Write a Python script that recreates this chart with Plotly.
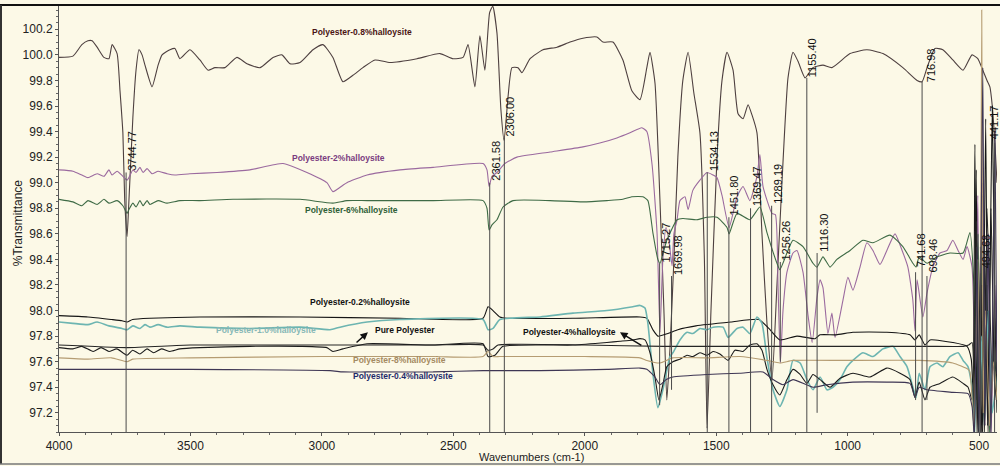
import plotly.graph_objects as go

# ---------------- FTIR spectra: (wavenumber / cm-1, %Transmittance) ----------------
PE_08 = [(4000, 99.98), (3947, 99.99), (3913, 100.08), (3890, 100.11), (3874, 100.11), (3855, 100.06),
         (3829, 99.98), (3810, 99.97), (3798, 100.08), (3779, 100.01), (3768, 99.72), (3757, 99.39),
         (3750, 98.86), (3741, 98.58), (3734, 98.86), (3719, 99.51), (3707, 99.88), (3696, 100.04),
         (3684, 100.00), (3673, 99.92), (3646, 99.75), (3623, 99.92), (3608, 100.00), (3578, 100.04),
         (3559, 100.05), (3540, 99.97), (3502, 100.04), (3464, 99.96), (3433, 99.88), (3407, 99.90),
         (3369, 99.90), (3323, 99.98), (3285, 99.93), (3235, 99.90), (3186, 99.98), (3152, 100.00),
         (3121, 99.93), (3083, 99.94), (3034, 100.04), (2996, 100.08), (2958, 99.98), (2920, 99.79),
         (2882, 99.84), (2844, 99.90), (2798, 99.96), (2741, 99.94), (2638, 99.97), (2551, 100.01),
         (2501, 99.97), (2463, 99.98), (2444, 100.08), (2418, 99.75), (2399, 100.15), (2380, 99.88),
         (2362, 100.33), (2350, 100.38), (2334, 100.17), (2319, 99.57), (2307, 99.33), (2292, 99.67),
         (2277, 99.90), (2254, 99.90), (2239, 99.86), (2208, 99.97), (2159, 100.04), (2106, 100.06),
         (2056, 100.10), (2007, 100.13), (1954, 100.14), (1931, 100.10), (1893, 100.10), (1855, 99.96),
         (1821, 99.72), (1790, 99.65), (1764, 99.90), (1752, 100.02), (1733, 99.78), (1714, 98.86),
         (1699, 98.00), (1688, 97.30), (1676, 97.70), (1661, 98.40), (1646, 99.20), (1627, 99.80),
         (1607, 100.02), (1585, 99.70), (1562, 99.39), (1545, 98.40), (1535, 97.08), (1520, 98.00),
         (1497, 99.20), (1478, 99.80), (1459, 100.02), (1436, 99.88), (1417, 99.54), (1398, 99.50),
         (1379, 99.61), (1364, 99.53), (1345, 99.39), (1326, 98.60), (1307, 97.90), (1288, 97.45),
         (1269, 98.20), (1250, 99.00), (1227, 99.82), (1208, 100.02), (1189, 99.95), (1162, 99.82),
         (1132, 99.90), (1094, 99.92), (1060, 99.90), (991, 100.01), (927, 100.04), (866, 100.01),
         (790, 99.90), (736, 99.80), (717, 99.79), (698, 99.90), (668, 100.05), (638, 100.04),
         (600, 99.96), (561, 99.88), (527, 100.00), (505, 99.97), (486, 99.88), (470, 99.80),
         (459, 99.75), (450, 99.60), (440, 99.31), (432, 99.00)]

PE_2 = [(4000, 99.10), (3947, 99.09), (3913, 99.06), (3890, 99.04), (3855, 99.07), (3829, 99.05),
        (3810, 99.10), (3798, 99.06), (3779, 99.09), (3757, 99.05), (3741, 99.02), (3734, 99.04),
        (3719, 99.10), (3707, 99.08), (3692, 99.12), (3680, 99.08), (3665, 99.11), (3646, 99.07),
        (3623, 99.09), (3589, 99.07), (3559, 99.06), (3502, 99.07), (3399, 99.08), (3274, 99.10),
        (3148, 99.15), (3057, 99.08), (2981, 99.00), (2958, 98.93), (2920, 98.98), (2905, 99.00),
        (2828, 99.06), (2703, 99.10), (2577, 99.12), (2387, 99.15), (2372, 99.10), (2364, 98.97),
        (2353, 99.05), (2334, 99.08), (2304, 99.15), (2258, 99.20), (2132, 99.24), (2007, 99.28),
        (1943, 99.31), (1878, 99.35), (1828, 99.39), (1783, 99.43), (1764, 99.40), (1744, 99.14),
        (1725, 98.60), (1714, 97.83), (1703, 98.40), (1691, 98.65), (1680, 98.55), (1668, 98.35),
        (1661, 98.60), (1649, 98.71), (1638, 98.86), (1619, 98.89), (1607, 98.79), (1589, 98.94),
        (1562, 99.02), (1535, 99.08), (1512, 99.06), (1497, 99.04), (1478, 98.90), (1451, 98.65),
        (1421, 98.89), (1398, 98.97), (1372, 98.86), (1345, 99.05), (1334, 99.22), (1322, 98.97),
        (1288, 98.76), (1275, 98.75), (1265, 98.20), (1256, 97.59), (1246, 98.00), (1231, 98.30),
        (1208, 98.45), (1193, 98.47), (1170, 98.30), (1150, 97.95), (1135, 97.75), (1117, 98.10),
        (1105, 98.24), (1094, 98.18), (1075, 97.82), (1060, 97.98), (1048, 97.79), (1018, 98.08),
        (999, 98.26), (980, 98.16), (953, 98.34), (927, 98.53), (904, 98.47), (877, 98.36),
        (851, 98.47), (820, 98.60), (793, 98.47), (771, 98.34), (752, 98.08), (744, 97.84),
        (736, 98.24), (714, 97.95), (698, 98.14), (676, 98.34), (649, 98.45), (622, 98.47),
        (600, 98.55), (580, 98.47), (561, 98.40), (546, 98.50), (527, 98.34), (516, 97.60),
        (505, 98.90), (497, 97.10), (486, 99.00), (478, 97.10), (466, 98.60), (455, 97.00),
        (440, 98.20), (432, 97.60)]

PE_6 = [(4000, 98.87), (3947, 98.85), (3913, 98.82), (3890, 98.86), (3855, 98.83), (3829, 98.87),
        (3810, 98.84), (3779, 98.86), (3757, 98.82), (3741, 98.76), (3734, 98.79), (3719, 98.84),
        (3707, 98.81), (3692, 98.86), (3680, 98.82), (3665, 98.86), (3654, 98.83), (3623, 98.86),
        (3589, 98.84), (3540, 98.86), (3464, 98.86), (3338, 98.87), (3083, 98.87), (2958, 98.84),
        (2905, 98.86), (2828, 98.86), (2577, 98.86), (2387, 98.86), (2372, 98.80), (2364, 98.63),
        (2353, 98.67), (2334, 98.71), (2311, 98.81), (2273, 98.86), (2132, 98.86), (2007, 98.85),
        (1916, 98.86), (1855, 98.87), (1821, 98.89), (1779, 98.89), (1760, 98.86), (1741, 98.61),
        (1722, 98.40), (1714, 98.37), (1688, 98.55), (1649, 98.71), (1627, 98.72), (1573, 98.71),
        (1535, 98.73), (1497, 98.73), (1459, 98.65), (1451, 98.60), (1421, 98.76), (1372, 98.71),
        (1334, 98.81), (1307, 98.61), (1269, 98.37), (1258, 98.32), (1231, 98.45), (1208, 98.55),
        (1170, 98.50), (1132, 98.37), (1117, 98.34), (1094, 98.42), (1067, 98.34), (1041, 98.40),
        (991, 98.47), (942, 98.55), (904, 98.53), (839, 98.59), (790, 98.50), (752, 98.37),
        (740, 98.34), (728, 98.42), (698, 98.37), (660, 98.42), (611, 98.45), (561, 98.45),
        (535, 98.61), (520, 98.20), (512, 97.30), (504, 98.60), (496, 97.10), (488, 98.90),
        (480, 97.20), (470, 98.20), (460, 97.00), (445, 97.80), (432, 97.30)]

PE_02 = [(4000, 97.96), (3890, 97.95), (3800, 97.93), (3760, 97.92), (3741, 97.91), (3720, 97.93),
         (3654, 97.94), (3464, 97.95), (3083, 97.95), (2703, 97.94), (2387, 97.94), (2368, 98.03),
         (2349, 98.00), (2323, 97.95), (2296, 97.94), (2045, 97.94), (1790, 97.95), (1764, 97.94),
         (1741, 97.85), (1722, 97.80), (1684, 97.82), (1646, 97.85), (1577, 97.88), (1444, 97.91),
         (1338, 97.93), (1300, 97.86), (1258, 97.77), (1193, 97.80), (1124, 97.78), (1105, 97.81),
         (1044, 97.81), (980, 97.83), (851, 97.83), (763, 97.81), (744, 97.77), (728, 97.81),
         (706, 97.73), (687, 97.77), (600, 97.75), (546, 97.72), (530, 97.62), (520, 97.20),
         (511, 99.10), (503, 97.00), (495, 98.50), (487, 97.05), (475, 99.50), (466, 97.00),
         (450, 99.60), (440, 98.00), (432, 97.20)]

PE_10 = [(4000, 97.91), (3947, 97.90), (3890, 97.89), (3855, 97.91), (3810, 97.88), (3760, 97.86),
         (3741, 97.85), (3719, 97.88), (3692, 97.86), (3673, 97.89), (3654, 97.87), (3623, 97.89),
         (3589, 97.87), (3540, 97.88), (3464, 97.87), (3274, 97.86), (3083, 97.87), (2969, 97.85),
         (2931, 97.87), (2828, 97.91), (2703, 97.93), (2387, 97.93), (2368, 97.85), (2349, 97.86),
         (2323, 97.93), (2170, 97.95), (2045, 97.98), (1916, 98.00), (1817, 98.03), (1790, 98.04),
         (1771, 98.02), (1760, 97.90), (1741, 97.51), (1722, 97.24), (1703, 97.38), (1676, 97.64),
         (1665, 97.67), (1638, 97.77), (1611, 97.83), (1589, 97.82), (1562, 97.86), (1535, 97.85),
         (1512, 97.87), (1474, 97.87), (1455, 97.79), (1421, 97.86), (1398, 97.87), (1372, 97.82),
         (1345, 97.95), (1326, 97.90), (1307, 97.63), (1284, 97.38), (1258, 97.25), (1231, 97.38),
         (1208, 97.61), (1181, 97.59), (1155, 97.46), (1132, 97.38), (1105, 97.48), (1079, 97.38),
         (1056, 97.40), (1029, 97.46), (1003, 97.56), (980, 97.61), (942, 97.67), (904, 97.64),
         (866, 97.70), (828, 97.72), (801, 97.64), (774, 97.56), (752, 97.40), (740, 97.32),
         (728, 97.51), (706, 97.38), (687, 97.56), (660, 97.59), (638, 97.56), (611, 97.64),
         (580, 97.67), (561, 97.61), (542, 97.56), (527, 97.40), (517, 97.00), (508, 98.20),
         (500, 97.00), (490, 97.80), (480, 97.10), (465, 98.00), (450, 97.20), (432, 97.50)]

PE_PURE = [(4000, 97.71), (3947, 97.70), (3913, 97.72), (3870, 97.68), (3840, 97.71), (3810, 97.68),
           (3780, 97.70), (3741, 97.65), (3720, 97.69), (3692, 97.66), (3665, 97.70), (3640, 97.67),
           (3610, 97.70), (3578, 97.68), (3540, 97.70), (3464, 97.71), (3274, 97.72), (3083, 97.72),
           (2981, 97.71), (2958, 97.68), (2920, 97.70), (2828, 97.74), (2577, 97.73), (2387, 97.74),
           (2368, 97.64), (2342, 97.65), (2311, 97.72), (2045, 97.73), (1916, 97.75), (1866, 97.76),
           (1817, 97.77), (1790, 97.78), (1771, 97.77), (1752, 97.67), (1733, 97.48), (1718, 97.30),
           (1703, 97.42), (1688, 97.56), (1665, 97.60), (1638, 97.62), (1611, 97.65), (1589, 97.64),
           (1562, 97.67), (1535, 97.65), (1512, 97.68), (1486, 97.66), (1455, 97.61), (1429, 97.69),
           (1398, 97.68), (1372, 97.73), (1345, 97.74), (1326, 97.69), (1307, 97.54), (1284, 97.42),
           (1258, 97.34), (1231, 97.46), (1208, 97.54), (1181, 97.50), (1155, 97.43), (1132, 97.50),
           (1105, 97.46), (1067, 97.40), (1029, 97.47), (980, 97.51), (915, 97.48), (851, 97.55),
           (801, 97.51), (763, 97.46), (744, 97.32), (728, 97.44), (706, 97.30), (687, 97.40),
           (649, 97.43), (600, 97.48), (561, 97.43), (542, 97.40), (527, 97.30), (516, 99.30),
           (508, 97.00), (498, 98.00), (490, 97.00), (478, 98.40), (468, 97.10), (455, 98.80),
           (440, 97.30), (432, 97.60)]

PE_4 = [(4000, 97.73), (3741, 97.71), (3500, 97.73), (3000, 97.73), (2577, 97.73), (2387, 97.73),
        (2368, 97.69), (2349, 97.70), (2330, 97.73), (2000, 97.73), (1700, 97.72), (1400, 97.72),
        (1000, 97.72), (700, 97.72), (560, 97.72), (540, 97.73), (527, 97.75), (518, 97.00),
        (510, 98.70), (502, 97.05), (490, 98.20), (480, 97.00), (470, 98.80), (450, 97.50),
        (432, 98.00)]

PE_8 = [(4000, 97.63), (3890, 97.62), (3800, 97.63), (3741, 97.60), (3720, 97.62), (3500, 97.63),
        (3000, 97.64), (2577, 97.64), (2387, 97.64), (2368, 97.68), (2349, 97.64), (2323, 97.64),
        (2000, 97.64), (1790, 97.63), (1764, 97.61), (1714, 97.59), (1665, 97.63), (1535, 97.63),
        (1410, 97.64), (1307, 97.61), (1258, 97.59), (1208, 97.61), (1029, 97.61), (1000, 97.61),
        (728, 97.61), (600, 97.59), (542, 97.54), (535, 97.52), (520, 97.10), (505, 98.40),
        (497, 97.00), (490, 100.35), (484, 97.20), (475, 98.00), (460, 97.10), (445, 97.60),
        (432, 97.30)]

PE_04 = [(4000, 97.54), (3500, 97.54), (2969, 97.53), (2920, 97.52), (2828, 97.52), (2577, 97.52),
         (2387, 97.53), (2170, 97.53), (1916, 97.54), (1790, 97.55), (1764, 97.54), (1733, 97.48),
         (1714, 97.42), (1690, 97.46), (1665, 97.48), (1535, 97.50), (1410, 97.51), (1322, 97.52),
         (1284, 97.46), (1246, 97.42), (1208, 97.46), (1132, 97.40), (1079, 97.42), (980, 97.44),
         (851, 97.44), (763, 97.43), (744, 97.32), (728, 97.40), (698, 97.38), (600, 97.36),
         (542, 97.35), (527, 97.25), (518, 97.00), (508, 98.50), (500, 97.00), (486, 99.90),
         (478, 97.10), (466, 98.60), (455, 97.00), (440, 99.40), (432, 97.50)]

# Marked absorption bands (cm-1)
PEAKS = [3744.77, 2361.58, 2306.00, 1715.27, 1669.98, 1534.13, 1451.80, 1369.47, 1289.19,
         1256.26, 1155.40, 1116.30, 741.68, 716.98, 698.46, 494.68, 441.17]

# ---------------- layout helpers ----------------
BG = "#fcf9e7"
Y_MIN, Y_MAX = 97.05, 100.39
X_LEFT, X_RIGHT = 4000, 432
FONT = "Liberation Sans, Arial"

traces = [
    (PE_08, "#4e4040", 1.1),
    (PE_2, "#9b6a9f", 1.1),
    (PE_6, "#3f6b46", 1.1),
    (PE_02, "#151515", 1.1),
    (PE_10, "#6db5b1", 1.6),
    (PE_PURE, "#1c1c1c", 1.1),
    (PE_4, "#252525", 1.1),
    (PE_8, "#b59c72", 1.1),
    (PE_04, "#3e3654", 1.1),
]

fig = go.Figure()
for pts, color, width in traces:
    wn, tr = zip(*pts)
    fig.add_trace(go.Scatter(x=list(wn), y=list(tr), mode="lines",
                             line=dict(color=color, width=width, shape="spline", smoothing=0.5),
                             showlegend=False, hoverinfo="skip"))

# peak marker lines: (label centre %T, line top %T, line bottom %T, label x-shift px)
peak_style = {
    3744.77: (99.25, 99.08, Y_MIN, 6),
    2361.58: (99.17, 99.00, Y_MIN, 6),
    2306.00: (99.52, 99.35, Y_MIN, 6),
    1715.27: (98.53, 98.37, 97.26, 6),
    1669.98: (98.43, 98.27, 97.38, 6),
    1534.13: (99.25, 99.08, Y_MIN, 6),
    1451.80: (98.90, 98.73, Y_MIN, 6),
    1369.47: (98.97, 98.80, Y_MIN, 6),
    1289.19: (98.99, 98.82, Y_MIN, 6),
    1256.26: (98.55, 98.38, 97.60, 6),
    1155.40: (99.98, 99.82, Y_MIN, 6),
    1116.30: (98.61, 98.45, 97.20, 6),
    741.68: (98.47, 98.30, 97.30, 6),
    716.98: (99.92, 99.79, Y_MIN, 9),
    698.46: (98.43, 98.27, 97.30, 6),
    494.68: (98.46, 98.29, Y_MIN, 5),
    441.17: (99.47, 99.31, Y_MIN, -1),
}

shapes = []
annotations = []
for p in PEAKS:
    lab_y, top, bot, dx = peak_style[p]
    shapes.append(dict(type="line", xref="x", yref="y", x0=p, x1=p, y0=top, y1=bot,
                       line=dict(color="#4a4a4a", width=1), layer="above"))
    annotations.append(dict(x=p, y=lab_y, xref="x", yref="y", text=f"{p:.2f}",
                            textangle=-90, showarrow=False, xshift=dx,
                            font=dict(family=FONT, size=11, color="#111")))

# sample labels
labels = [
    ("Polyester-0.8%halloysite", 2847, 100.18, "#4a1414"),
    ("Polyester-2%halloysite", 2935, 99.19, "#7a3c80"),
    ("Polyester-6%halloysite", 2886, 98.79, "#2f5f37"),
    ("Polyester-0.2%halloysite", 2855, 98.07, "#111111"),
    ("Polyester-1.0%halloysite", 3213, 97.85, "#86b7b6"),
    ("Pure Polyester", 2684, 97.85, "#111111"),
    ("Polyester-8%halloysite", 2703, 97.61, "#a48a62"),
    ("Polyester-0.4%halloysite", 2692, 97.49, "#1f2b6b"),
    ("Polyester-4%halloysite", 2060, 97.83, "#111111"),
]
for text, x, y, color in labels:
    annotations.append(dict(x=x, y=y, xref="x", yref="y", text=f"<b>{text}</b>",
                            showarrow=False, font=dict(family=FONT, size=8.5, color=color)))

# arrows tying labels to their traces
for head, tail in [((2825, 97.83), (2874, 97.74)), ((1866, 97.83), (1779, 97.72))]:
    annotations.append(dict(x=head[0], y=head[1], ax=tail[0], ay=tail[1],
                            xref="x", yref="y", axref="x", ayref="y", text="",
                            showarrow=True, arrowhead=2, arrowsize=1, arrowwidth=1.5,
                            arrowcolor="#111"))

# axis titles
annotations.append(dict(xref="paper", yref="paper", x=-0.0437, y=0.489, text="%Transmittance",
                        textangle=-90, showarrow=False, xanchor="center", yanchor="middle",
                        font=dict(family=FONT, size=12, color="#222")))
annotations.append(dict(xref="paper", yref="paper", x=0.504, y=-0.0585, text="Wavenumbers (cm-1)",
                        showarrow=False, xanchor="center", yanchor="middle",
                        font=dict(family=FONT, size=11, color="#222")))

# frame around the whole figure
W_PLOT = 938.0
H_PLOT = 427.0
shapes += [
    dict(type="line", xref="paper", yref="paper", x0=-59 / W_PLOT, x1=1 + 3 / W_PLOT,
         y0=1, y1=1, line=dict(color="#111", width=2)),
    dict(type="line", xref="paper", yref="paper", x0=-58 / W_PLOT, x1=-58 / W_PLOT,
         y0=-32 / H_PLOT, y1=1, line=dict(color="#333", width=2)),
    dict(type="line", xref="paper", yref="paper", x0=-59 / W_PLOT, x1=1 + 3 / W_PLOT,
         y0=-32 / H_PLOT, y1=-32 / H_PLOT, line=dict(color="#777", width=1.5)),
]

fig.update_layout(
    width=1000, height=466,
    margin=dict(l=59, r=3, t=5, b=34),
    paper_bgcolor=BG, plot_bgcolor=BG,
    shapes=shapes, annotations=annotations,
    font=dict(family=FONT, color="#222"),
    xaxis=dict(range=[X_LEFT, X_RIGHT], autorange=False,
               tickvals=[4000, 3500, 3000, 2500, 2000, 1500, 1000, 500],
               ticktext=["4000", "3500", "3000", "2500", "2000", "1500", "1000", "500"],
               showgrid=False, zeroline=False, showline=True, linecolor="#555", linewidth=1,
               ticks="outside", ticklen=3, tickcolor="#555",
               minor=dict(dtick=100, tick0=0, ticks="outside", ticklen=2, tickcolor="#666"),
               tickfont=dict(size=12, color="#222")),
    yaxis=dict(range=[Y_MIN, Y_MAX], autorange=False,
               tickvals=[round(97.2 + 0.2 * i, 1) for i in range(16)],
               tickformat=".1f",
               showgrid=False, zeroline=False, showline=True, linecolor="#555", linewidth=1,
               ticks="outside", ticklen=3, tickcolor="#555",
               minor=dict(dtick=0.05, tick0=97.0, ticks="outside", ticklen=2, tickcolor="#666"),
               tickfont=dict(size=12, color="#222")),
)

fig.write_html("out.html")
